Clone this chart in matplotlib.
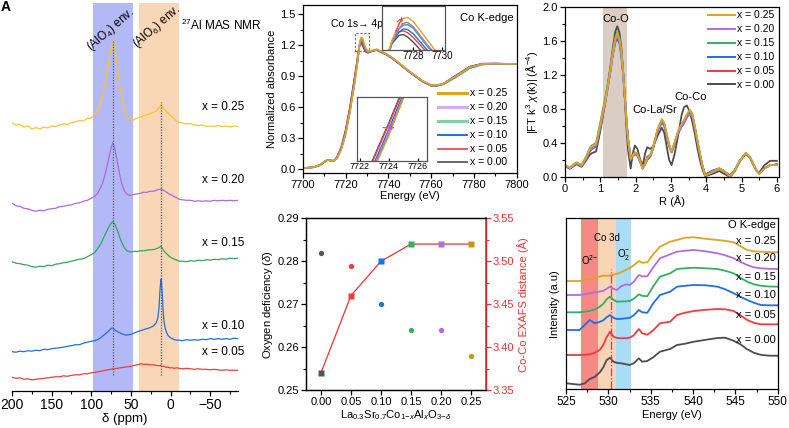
import matplotlib
matplotlib.use("Agg")
import matplotlib.pyplot as plt
from matplotlib.ticker import MultipleLocator
from matplotlib.patches import Rectangle
import numpy as np

plt.rcParams['font.family'] = ['Liberation Sans', 'DejaVu Sans']
plt.rcParams['mathtext.fontset'] = 'custom'
plt.rcParams['mathtext.rm'] = 'Liberation Sans'
plt.rcParams['mathtext.it'] = 'Liberation Sans:italic'
plt.rcParams['mathtext.bf'] = 'Liberation Sans:bold'
plt.rcParams['axes.linewidth'] = 0.9

# ---------------- data ----------------
SERIES = ["x = 0.25", "x = 0.20", "x = 0.15", "x = 0.10", "x = 0.05", "x = 0.00"]
COLORS = ["#DAA520", "#B36AE2", "#34AE60", "#1F6FE5", "#F03C3C", "#4D4D4D"]

# (A) 27Al MAS NMR
NMR_LABELS = ["x = 0.25", "x = 0.20", "x = 0.15", "x = 0.10", "x = 0.05"]
NMR_COLORS = ["#F7C52B", "#A96BDB", "#2FA85A", "#1F6FE5", "#F03C3C"]
PPM = [200, 195, 190, 185, 180, 175, 170, 165, 160, 155, 150, 145, 140, 135, 130, 125, 120, 115, 110, 105, 100,
       96, 92, 88, 85, 82, 79, 76, 74, 73, 72, 70, 68, 66, 64, 62, 60, 58, 56, 54, 52, 50, 48, 45, 42, 38, 34, 30, 26, 22, 18, 15, 13, 12, 11, 9, 7, 5, 3, 1,
       -2, -5, -8, -11, -15, -20, -25, -30, -35, -40, -45, -50, -55, -60, -65, -70, -75, -80, -85]
PPM_B = [200, 195, 190, 185, 180, 175, 170, 165, 160, 155, 150, 145, 140, 135, 130, 125, 120, 115, 110, 105, 100,
         96, 92, 88, 85, 82, 79, 76, 74, 73, 72, 70, 68, 66, 64, 62, 60, 58, 56, 54, 52, 50, 48, 45, 42, 38, 34, 30, 26, 22, 18, 16, 14.5, 13.5, 12.5, 12, 11.5, 10.5, 9.5, 8.5, 7, 5, 3, 1,
         -2, -5, -8, -11, -15, -20, -25, -30, -35, -40, -45, -50, -55, -60, -65, -70, -75, -80, -85]
NMR_025 = [0, -2, -1.5, -4, -3, -6, -4.5, -6, -4, -5, -3, -3.5, -2, -1, -1.5, 0.5, 1, 2.5, 2, 4.5, 5,
           8, 12, 20, 30, 42, 56, 70, 79, 82, 80, 72, 62, 50, 38, 28, 20, 13, 8, 5, 3, 3.5, 2, 4, 5, 6, 7, 8, 9, 10.5, 12, 15, 17, 18, 17, 15, 13, 11, 10, 8,
           6, 4, 2, 0.5, 0, -1, -0.5, -2, -2.5, -2, -3.5, -3, -3.5, -2.5, -3.5, -3, -4, -3, -3.5]
NMR_020 = [0, -2.5, -3, -5, -5.5, -7, -8, -7, -7.5, -6, -5.5, -5, -3.5, -3, -2, -1.5, 0, 0.5, 2, 3, 5,
           7, 10, 16, 22, 31, 41, 52, 58, 60.5, 59, 53, 45, 36, 28, 21, 16, 12, 10, 8.5, 8, 8, 8.5, 9, 9.5, 10, 11, 11, 12, 12, 13, 14, 14, 14.5, 14, 13, 12, 11, 10, 9,
           8, 6.5, 5.5, 4, 3.5, 3, 3, 2, 2.5, 2, 2.5, 2, 3, 2.5, 3, 2.5, 3, 2.5, 3]
NMR_015 = [0, -1.5, -2, -3, -3.5, -5, -5.5, -4.5, -5, -3.5, -4, -2.5, -2, -1, -0.5, 0.5, 1.5, 2.5, 3, 5, 7,
           9, 13, 18, 23, 28, 33, 37.5, 39.5, 40, 39.5, 37, 33, 29, 24, 20, 16.5, 13.5, 11.5, 10.5, 10, 10, 10, 10.5, 10, 11, 11, 11.5, 12, 12, 13, 14, 15, 15.5, 14, 11.5, 9.5, 8, 6.5, 5,
           3.5, 2.5, 1.5, 0.5, 0.5, 0, 1, 0.5, 1.5, 1, 2, 1.5, 2.5, 2, 3, 2.5, 3.5, 3, 3.5]
NMR_010 = [0, -0.5, 0.5, 0, 1, 0.5, 1.5, 1, 2.5, 2, 3, 3.5, 4, 4.5, 5.5, 6, 7, 7, 8.5, 9.5, 10.5,
           11, 12, 14, 16, 18, 20, 22.5, 23.5, 23.5, 23, 21.5, 20.5, 19.5, 19, 18, 17.5, 17, 16.5, 17, 17, 17.5, 18, 19, 20, 21, 22, 23, 24, 25.5, 29, 34, 45, 60, 70, 72.5, 70, 58, 42, 31, 24, 19, 16, 14.5,
           13, 12, 11.5, 11.5, 11, 12, 11.5, 12, 11.5, 12.5, 12, 13, 12.5, 13, 12.5, 13, 12.5, 13.5, 13]
NMR_005 = [0, -1, -0.5, -2, -1.5, -2.5, -2, -1.5, -1, -0.5, 0, 0.5, 0.5, 1.5, 1, 2, 2.5, 2.5, 3.5, 3.5, 4.5,
           5, 5.5, 6, 6.5, 7, 7.5, 8, 8, 8.5, 8, 8.5, 9, 9, 9.5, 9.5, 10, 10, 10.5, 10.5, 11, 10.5, 11.5, 12, 12.5, 13.5, 13, 13, 12.5, 12.5, 12, 11.5, 12, 11.5, 11, 11, 10.5, 10, 10, 9.5,
           9.5, 9, 9.5, 9, 8.5, 9, 8.5, 8, 8.5, 8, 8, 7.5, 8, 7.5, 7, 7.5, 7, 7, 7]

# (B) Co K-edge XANES
E_CO = [7700, 7705, 7708, 7710, 7711.5, 7713, 7714.5, 7716, 7718, 7720,
        7722, 7724, 7725.5, 7726, 7726.5, 7727, 7727.3, 7727.6, 7728, 7728.5, 7729, 7729.5,
        7730.5, 7732, 7734.5, 7737, 7740, 7744, 7750, 7756, 7760, 7763, 7766, 7772, 7778, 7784, 7790, 7800]
MU_025 = [0.01, 0.02, 0.04, 0.07, 0.09, 0.085, 0.08, 0.105, 0.19, 0.33,
          0.55, 0.80, 1.02, 1.11, 1.20, 1.255, 1.272, 1.275, 1.262, 1.232, 1.20, 1.17,
          1.14, 1.145, 1.16, 1.135, 1.105, 1.045, 0.945, 0.855, 0.815, 0.812, 0.83, 0.905, 0.985, 1.018, 1.02, 1.018]
MU_020 = [0.01, 0.02, 0.04, 0.07, 0.09, 0.085, 0.08, 0.107, 0.195, 0.34,
          0.555, 0.81, 1.025, 1.11, 1.195, 1.24, 1.256, 1.259, 1.245, 1.215, 1.185, 1.16,
          1.135, 1.142, 1.157, 1.133, 1.102, 1.042, 0.942, 0.852, 0.812, 0.81, 0.828, 0.902, 0.982, 1.016, 1.02, 1.017]
MU_015 = [0.01, 0.02, 0.04, 0.07, 0.09, 0.085, 0.08, 0.107, 0.195, 0.34,
          0.55, 0.805, 1.02, 1.105, 1.19, 1.238, 1.25, 1.252, 1.24, 1.21, 1.18, 1.155,
          1.133, 1.14, 1.156, 1.132, 1.10, 1.04, 0.94, 0.85, 0.81, 0.808, 0.822, 0.895, 0.975, 1.012, 1.019, 1.017]
MU_010 = [0.01, 0.02, 0.04, 0.07, 0.09, 0.085, 0.08, 0.11, 0.20, 0.35,
          0.565, 0.825, 1.035, 1.115, 1.19, 1.228, 1.238, 1.236, 1.222, 1.195, 1.168, 1.148,
          1.13, 1.14, 1.155, 1.13, 1.10, 1.04, 0.94, 0.85, 0.81, 0.81, 0.83, 0.91, 0.99, 1.02, 1.02, 1.017]
MU_005 = [0.01, 0.02, 0.04, 0.07, 0.09, 0.085, 0.08, 0.115, 0.21, 0.37,
          0.585, 0.845, 1.05, 1.13, 1.195, 1.228, 1.232, 1.226, 1.21, 1.185, 1.16, 1.14,
          1.128, 1.14, 1.155, 1.13, 1.10, 1.04, 0.94, 0.85, 0.81, 0.81, 0.83, 0.91, 0.99, 1.02, 1.02, 1.017]
MU_000 = [0.01, 0.02, 0.04, 0.07, 0.09, 0.085, 0.08, 0.115, 0.21, 0.37,
          0.59, 0.85, 1.055, 1.13, 1.19, 1.217, 1.22, 1.212, 1.195, 1.17, 1.15, 1.135,
          1.125, 1.138, 1.152, 1.128, 1.098, 1.038, 0.938, 0.848, 0.808, 0.808, 0.828, 0.908, 0.988, 1.018, 1.02, 1.017]

# (C) oxygen deficiency and Co-Co distance
X_AL = [0.00, 0.05, 0.10, 0.15, 0.20, 0.25]
DELTA = [0.282, 0.279, 0.270, 0.264, 0.264, 0.258]
COCO_DIST = [3.37, 3.46, 3.50, 3.52, 3.52, 3.52]
C_COLORS = ["#555555", "#F03C3C", "#1F6FE5", "#34AE60", "#B36AE2", "#C8960C"]

# (D) FT-EXAFS
R_FT = [0.0, 0.14, 0.25, 0.33, 0.47, 0.61, 0.70, 0.76, 0.88, 0.99, 1.06, 1.13, 1.20, 1.27, 1.35, 1.42, 1.48, 1.54, 1.60, 1.65,
        1.70, 1.75, 1.79, 1.86, 1.92, 1.98, 2.05, 2.12, 2.20, 2.27, 2.33, 2.42, 2.50, 2.62, 2.74, 2.81, 2.88, 2.95, 3.02, 3.10,
        3.21, 3.30, 3.37, 3.45, 3.54, 3.61, 3.68, 3.75, 3.82, 3.90, 3.97, 4.06, 4.20, 4.37, 4.50, 4.67, 4.80, 4.95, 5.12, 5.25,
        5.33, 5.42, 5.50, 5.65, 5.81, 5.90, 6.0]
FT_025 = [0.14, 0.11, 0.15, 0.17, 0.14, 0.24, 0.33, 0.36, 0.39, 0.59, 0.74, 0.88, 1.04, 1.22, 1.45, 1.62, 1.69, 1.62, 1.45, 1.22,
          0.92, 0.62, 0.43, 0.21, 0.25, 0.29, 0.27, 0.20, 0.10, 0.16, 0.22, 0.26, 0.36, 0.56, 0.68, 0.64, 0.51, 0.38, 0.30, 0.40,
          0.55, 0.62, 0.67, 0.74, 0.79, 0.74, 0.59, 0.43, 0.28, 0.12, 0.02, 0.03, 0.06, 0.10, 0.07, 0.01, 0.07, 0.19, 0.285, 0.23,
          0.16, 0.08, 0.04, 0.10, 0.14, 0.14, 0.14]
FT_020 = [0.13, 0.10, 0.14, 0.16, 0.13, 0.22, 0.31, 0.34, 0.37, 0.57, 0.72, 0.86, 1.02, 1.20, 1.43, 1.59, 1.66, 1.60, 1.43, 1.20,
          0.91, 0.62, 0.43, 0.21, 0.24, 0.28, 0.26, 0.19, 0.10, 0.15, 0.21, 0.25, 0.35, 0.54, 0.66, 0.62, 0.49, 0.37, 0.29, 0.39,
          0.53, 0.60, 0.64, 0.70, 0.74, 0.71, 0.57, 0.42, 0.27, 0.12, 0.02, 0.04, 0.07, 0.10, 0.07, 0.01, 0.07, 0.19, 0.28, 0.22,
          0.15, 0.08, 0.04, 0.10, 0.14, 0.14, 0.15]
FT_015 = [0.14, 0.11, 0.15, 0.17, 0.14, 0.25, 0.34, 0.37, 0.40, 0.62, 0.77, 0.91, 1.07, 1.24, 1.46, 1.63, 1.70, 1.63, 1.45, 1.21,
          0.91, 0.62, 0.43, 0.22, 0.26, 0.29, 0.27, 0.20, 0.10, 0.16, 0.22, 0.26, 0.36, 0.55, 0.67, 0.63, 0.50, 0.37, 0.30, 0.40,
          0.54, 0.61, 0.66, 0.72, 0.77, 0.73, 0.58, 0.42, 0.27, 0.11, 0.02, 0.04, 0.07, 0.10, 0.07, 0.01, 0.07, 0.19, 0.28, 0.22,
          0.15, 0.08, 0.04, 0.10, 0.14, 0.14, 0.14]
FT_010 = [0.13, 0.10, 0.14, 0.16, 0.13, 0.22, 0.30, 0.33, 0.36, 0.57, 0.73, 0.88, 1.04, 1.20, 1.42, 1.57, 1.63, 1.57, 1.40, 1.18,
          0.90, 0.62, 0.44, 0.22, 0.24, 0.27, 0.25, 0.19, 0.10, 0.15, 0.20, 0.24, 0.34, 0.53, 0.64, 0.60, 0.48, 0.36, 0.29, 0.38,
          0.52, 0.59, 0.63, 0.70, 0.75, 0.71, 0.57, 0.42, 0.27, 0.12, 0.03, 0.05, 0.08, 0.10, 0.07, 0.02, 0.08, 0.19, 0.275, 0.22,
          0.15, 0.08, 0.04, 0.10, 0.14, 0.14, 0.15]
FT_005 = [0.13, 0.10, 0.14, 0.16, 0.13, 0.22, 0.30, 0.33, 0.36, 0.56, 0.71, 0.85, 1.02, 1.20, 1.44, 1.60, 1.67, 1.61, 1.44, 1.21,
          0.91, 0.62, 0.43, 0.22, 0.25, 0.28, 0.26, 0.19, 0.10, 0.17, 0.24, 0.26, 0.35, 0.55, 0.66, 0.62, 0.49, 0.37, 0.29, 0.39,
          0.53, 0.60, 0.65, 0.71, 0.76, 0.72, 0.58, 0.42, 0.27, 0.12, 0.02, 0.04, 0.07, 0.10, 0.07, 0.01, 0.07, 0.19, 0.28, 0.22,
          0.15, 0.08, 0.04, 0.10, 0.14, 0.14, 0.15]
FT_000 = [0.13, 0.10, 0.13, 0.15, 0.12, 0.20, 0.26, 0.28, 0.30, 0.52, 0.68, 0.86, 1.05, 1.25, 1.50, 1.70, 1.77, 1.70, 1.50, 1.22,
          0.88, 0.52, 0.30, 0.10, 0.28, 0.37, 0.33, 0.22, 0.13, 0.28, 0.35, 0.33, 0.36, 0.48, 0.58, 0.52, 0.36, 0.20, 0.14, 0.26,
          0.50, 0.72, 0.82, 0.84, 0.76, 0.64, 0.50, 0.34, 0.20, 0.08, 0.01, 0.02, 0.04, 0.07, 0.04, 0.00, 0.06, 0.18, 0.28, 0.22,
          0.15, 0.08, 0.05, 0.14, 0.19, 0.19, 0.19]

# (E) O K-edge
E_O = [525, 526.6, 527.2, 527.8, 528.4, 529.0, 529.4, 529.8, 530.2, 530.6, 531.0, 531.5, 532.1, 532.5, 533.0, 533.6, 534.0,
       534.6, 535.3, 536.1, 537.3, 538.1, 539.0, 540.1, 541.5, 542.9, 543.8, 544.8, 545.6, 546.4, 547.2, 548.0, 549.0, 550]
OK_025 = [108.3, 108.3, 109, 110.3, 111.5, 112.8, 113.6, 113.6, 113.6, 114.5, 115.5, 117, 119.5, 121, 124, 128.3, 126.5,
          127, 135, 142.6, 147.6, 149.3, 151.5, 152, 150.5, 149.3, 148.5, 147, 143, 139.3, 138, 137.6, 137.2, 137]
OK_020 = [94.3, 94.3, 95, 96, 97, 97.8, 98.3, 100.5, 102.6, 100.5, 99.3, 103, 105, 104.3, 107.5, 114.3, 113,
          113, 122, 131, 135, 137.6, 138.5, 139.3, 138, 136, 134, 131, 127.5, 124.3, 122, 121, 120.5, 120.3]
OK_015 = [77, 77, 77.5, 78.3, 80, 82.6, 85.5, 90, 92.6, 89.5, 87.6, 87.8, 88, 88.3, 90.5, 95, 93.5,
          93, 103, 112.6, 116, 120.3, 121, 121.6, 121, 120.3, 118.5, 116, 111.5, 107.6, 105, 103.6, 102.8, 102.6]
OK_010 = [59.3, 59.3, 64.3, 69.3, 66, 67.5, 69, 72, 74.3, 71.5, 70.3, 70.5, 71, 71.5, 74, 79.3, 77,
          76.5, 86, 94.3, 97.6, 102.6, 103.5, 104.3, 104, 102.6, 100, 96, 92.5, 89.3, 86.5, 84.3, 84, 84]
OK_005 = [34.3, 34.3, 34.5, 35, 36.5, 39.5, 44.3, 52, 57.6, 52.6, 51.5, 51, 51.2, 51.5, 54, 60.3, 56,
          54.6, 59, 66, 67.6, 74.3, 76.5, 78.3, 79.5, 80.3, 80, 78.3, 74, 69.3, 66.5, 65, 65, 65]
OK_000 = [6, 4.6, 5.9, 10.3, 12.5, 17, 22, 29.3, 31.6, 27.6, 26.5, 26, 25, 24.3, 26, 31, 27.6,
          28.3, 32, 37.6, 40.3, 44.3, 45.5, 47.6, 49.5, 51.3, 51.6, 48.5, 45, 40, 36.5, 34.5, 33.6, 33.6]

# ---------------- figure ----------------
W, H = 789, 428
fig = plt.figure(figsize=(W / 100, H / 100), dpi=100)


def px_axes(l, t, r, b):
    return fig.add_axes([l / W, 1 - b / H, (r - l) / W, (b - t) / H])


def style(ax, size=8):
    ax.tick_params(direction='out', labelsize=size, length=3.5, width=0.9, pad=1.5)
    ax.tick_params(which='minor', direction='out', length=2, width=0.8)


# ---- A: NMR ----
axA = px_axes(12, 3, 238, 391)
axA.axvspan(98, 47, color='#B3B9F7', lw=0, zorder=0)
axA.axvspan(40, -10.5, color='#F9D6B6', lw=0, zorder=0)
nmr_sets = [(PPM, NMR_025), (PPM, NMR_020), (PPM, NMR_015), (PPM_B, NMR_010), (PPM, NMR_005)]
nmr_offsets = [268, 187.7, 129.3, 39.3, 13.7]
nmr_label_y = [284, 211, 147.7, 65, 39.3]
for (pp, vals), off, c, lab, ly in zip(nmr_sets, nmr_offsets, NMR_COLORS, NMR_LABELS, nmr_label_y):
    axA.plot(pp, np.asarray(vals) + off, color=c, lw=0.9, zorder=3)
    axA.text(-39, ly, lab, fontsize=8.5, ha='left', va='center')
axA.plot([73, 73], [16, 350], color='#555555', lw=0.9, ls=(0, (1, 1.2)), zorder=4)
axA.plot([12, 12], [16, 289], color='#555555', lw=0.9, ls=(0, (1, 1.2)), zorder=4)
axA.text(97, 336, "(AlO$_4$) env.", rotation=41, rotation_mode='anchor', ha='left', va='bottom', fontsize=8.5)
axA.text(39, 339, "(AlO$_6$) env.", rotation=41, rotation_mode='anchor', ha='left', va='bottom', fontsize=8.5)
axA.text(-13, 366, "$^{27}$Al MAS NMR", fontsize=8.5, ha='left', va='center', clip_on=False)
axA.set_xlim(200, -85)
axA.set_ylim(0, 388)
for s in ['left', 'right', 'top']:
    axA.spines[s].set_visible(False)
axA.set_yticks([])
axA.xaxis.set_major_locator(MultipleLocator(50))
axA.xaxis.set_minor_locator(MultipleLocator(25))
style(axA, 10)
axA.set_xlabel("δ (ppm)", fontsize=9.5, labelpad=1)
fig.text(0.001, 0.999, "A", fontsize=10, fontweight='bold', ha='left', va='top')

# ---- B: Co K-edge ----
axB = px_axes(302.7, 5, 516.7, 173)
mus = [MU_025, MU_020, MU_015, MU_010, MU_005, MU_000]
for mu, c in list(zip(mus, COLORS))[::-1]:
    axB.plot(E_CO, mu, color=c, lw=1.2)
axB.set_xlim(7700, 7800)
axB.set_ylim(-0.036, 1.587)
axB.xaxis.set_major_locator(MultipleLocator(20))
axB.xaxis.set_minor_locator(MultipleLocator(10))
axB.yaxis.set_major_locator(MultipleLocator(0.3))
axB.yaxis.set_minor_locator(MultipleLocator(0.15))
style(axB, 8)
axB.set_xlabel("Energy (eV)", fontsize=8, labelpad=1)
axB.set_ylabel("Normalized absorbance", fontsize=8, labelpad=2)
axB.text(0.985, 0.95, "Co K-edge", transform=axB.transAxes, ha='right', va='top', fontsize=8)
axB.add_patch(Rectangle((7724.4, 1.145), 6.6, 0.175, fill=False, ec='#F04040', lw=0.8, ls=(0, (2, 1.5))))
axB.text(7725.4, 1.40, "Co 1s→ 4p", fontsize=7.5, ha='center', va='center')
leg_w = [2.2, 2.2, 2.2, 1.4, 1.2, 1.2]
leg_a = [1.0, 0.55, 0.6, 1.0, 1.0, 1.0]
for i, (lab, c) in enumerate(zip(SERIES, COLORS)):
    yy = (173 - (93.3 + i * 13.8)) / 168
    axB.plot([0.632, 0.768], [yy, yy], transform=axB.transAxes, color=c, lw=leg_w[i], alpha=leg_a[i])
    axB.text(0.782, yy, lab, transform=axB.transAxes, fontsize=7.5, va='center', ha='left')

# insets of B
insT = px_axes(381.7, 6, 445, 50)
for mu, c in list(zip(mus, COLORS))[::-1]:
    insT.plot(E_CO, mu, color=c, lw=1.0)
insT.set_xlim(7725.8, 7730.2)
insT.set_ylim(1.17, 1.312)
insT.set_xticks([7728, 7730])
insT.set_yticks([])
insT.tick_params(labelsize=7, length=2, pad=1, direction='in')
for s in insT.spines.values():
    s.set_color('#555555')
insT.annotate("", xy=(7727.3, 1.285), xytext=(7726.7, 1.22),
              arrowprops=dict(arrowstyle='->', color='#F03030', lw=0.8, ls='--'))

insB = px_axes(356.7, 97.3, 426.7, 161.5)
for mu, c in list(zip(mus, COLORS))[::-1]:
    insB.plot(E_CO, mu, color=c, lw=1.0)
insB.set_xlim(7721.8, 7726.6)
insB.set_ylim(0.70, 0.95)
insB.set_xticks([7722, 7724, 7726])
insB.set_yticks([])
insB.tick_params(labelsize=6.5, length=2, pad=0.5, direction='in')
for s in insB.spines.values():
    s.set_color('#555555')
insB.annotate("", xy=(7724.6, 0.832), xytext=(7723.4, 0.832),
              arrowprops=dict(arrowstyle='->', color='#F040C0', lw=0.8, ls='--'))

# ---- C: oxygen deficiency / Co-Co distance ----
axC = px_axes(306, 218.3, 486, 390)
axC2 = axC.twinx()
for x, d, c in zip(X_AL, DELTA, C_COLORS):
    axC.plot([x], [d], 'o', color=c, ms=3.8, mec='none')
axC2.plot(X_AL, COCO_DIST, '-', color='#F03030', lw=0.9, zorder=1)
for x, d, c in zip(X_AL, COCO_DIST, C_COLORS):
    axC2.plot([x], [d], 's', color=c, ms=3.8, mec='none', zorder=2)
axC.set_xlim(-0.025, 0.275)
axC.set_ylim(0.25, 0.29)
axC2.set_ylim(3.35, 3.55)
axC.set_xticks(X_AL)
axC.set_xticklabels([f"{v:.2f}" for v in X_AL])
axC.yaxis.set_major_locator(MultipleLocator(0.01))
axC.yaxis.set_minor_locator(MultipleLocator(0.005))
axC2.yaxis.set_major_locator(MultipleLocator(0.05))
axC2.yaxis.set_minor_locator(MultipleLocator(0.025))
style(axC, 8)
style(axC2, 8)
axC2.tick_params(axis='y', which='both', colors='#F03030')
axC2.spines['right'].set_color('#F03030')
axC2.spines['right'].set_linewidth(1.2)
axC.set_ylabel("Oxygen deficiency ($\\delta$)", fontsize=8, labelpad=2)
axC2.set_ylabel("Co-Co EXAFS distance (Å)", fontsize=8, color='#F03030', labelpad=2)
axC.set_xlabel("La$_{0.3}$Sr$_{0.7}$Co$_{1\\mathrm{-}x}$Al$_x$O$_{3\\mathrm{-}\\delta}$", fontsize=8, labelpad=1)

# ---- D: FT-EXAFS ----
axD = px_axes(565, 6.7, 779.3, 177)
axD.axvspan(1.07, 1.77, color='#D9CDC4', lw=0, zorder=0)
fts = [FT_025, FT_020, FT_015, FT_010, FT_005, FT_000]
for ft, c in list(zip(fts, COLORS))[::-1]:
    axD.plot(R_FT, ft, color=c, lw=1.3)
axD.set_xlim(0, 6.07)
axD.set_ylim(0, 2.0)
axD.xaxis.set_major_locator(MultipleLocator(1))
axD.xaxis.set_minor_locator(MultipleLocator(0.5))
axD.yaxis.set_major_locator(MultipleLocator(0.4))
axD.yaxis.set_minor_locator(MultipleLocator(0.2))
style(axD, 8)
axD.set_xlabel("R (Å)", fontsize=8, labelpad=1)
axD.set_ylabel("|FT k$^3$ $\\chi$(k)| (Å$^{-4}$)", fontsize=8, labelpad=2)
axD.text(1.44, 1.85, "Co-O", fontsize=8, ha='center', va='center')
axD.text(2.55, 0.79, "Co-La/Sr", fontsize=8, ha='center', va='center')
axD.text(3.56, 0.935, "Co-Co", fontsize=8, ha='center', va='center')
for i, (lab, c) in enumerate(zip(SERIES, COLORS)):
    yy = (177 - (15 + i * 13.9)) / 170.3
    axD.plot([(708 - 565) / 214.3, (735 - 565) / 214.3], [yy, yy], transform=axD.transAxes, color=c, lw=1.4)
    axD.text((737 - 565) / 214.3, yy, lab, transform=axD.transAxes, fontsize=7.5, va='center', ha='left')

# ---- E: O K-edge ----
axE = px_axes(566, 218.3, 777.7, 389.3)
axE.axvspan(526.75, 528.8, color='#F58A85', lw=0, zorder=0)
axE.axvspan(528.8, 530.95, color='#F9D5B5', lw=0, zorder=0)
axE.axvspan(530.95, 532.66, color='#A9DDF6', lw=0, zorder=0)
oks = [OK_025, OK_020, OK_015, OK_010, OK_005, OK_000]
ok_label_y = [148.3, 131, 112.6, 94.3, 74.3, 49.3]
for ok, c, lab, ly in zip(oks, COLORS, SERIES, ok_label_y):
    axE.plot(E_O, ok, color=c, lw=1.3)
    axE.text(549.8, ly, lab, fontsize=8, ha='right', va='center')
axE.plot([530.3, 530.3], [0, 120], color='#F020A0', lw=0.9, ls='-.')
axE.text(549.8, 164.3, "O K-edge", fontsize=8, ha='right', va='center')
axE.text(527.8, 129.3, "O$^{2\\mathrm{-}}$", fontsize=7, ha='center', va='center')
axE.text(529.8, 151, "Co 3d", fontsize=7, ha='center', va='center')
axE.text(531.8, 134.3, "O$_2^{\\mathrm{-}}$", fontsize=7, ha='center', va='center')
axE.set_xlim(525, 550)
axE.set_ylim(0, 171)
axE.set_yticks([])
axE.xaxis.set_major_locator(MultipleLocator(5))
axE.xaxis.set_minor_locator(MultipleLocator(2.5))
style(axE, 8.5)
axE.set_xlabel("Energy (eV)", fontsize=8, labelpad=1)
axE.set_ylabel("Intensity (a.u)", fontsize=8, labelpad=4)

fig.savefig("out.png", dpi=100)
